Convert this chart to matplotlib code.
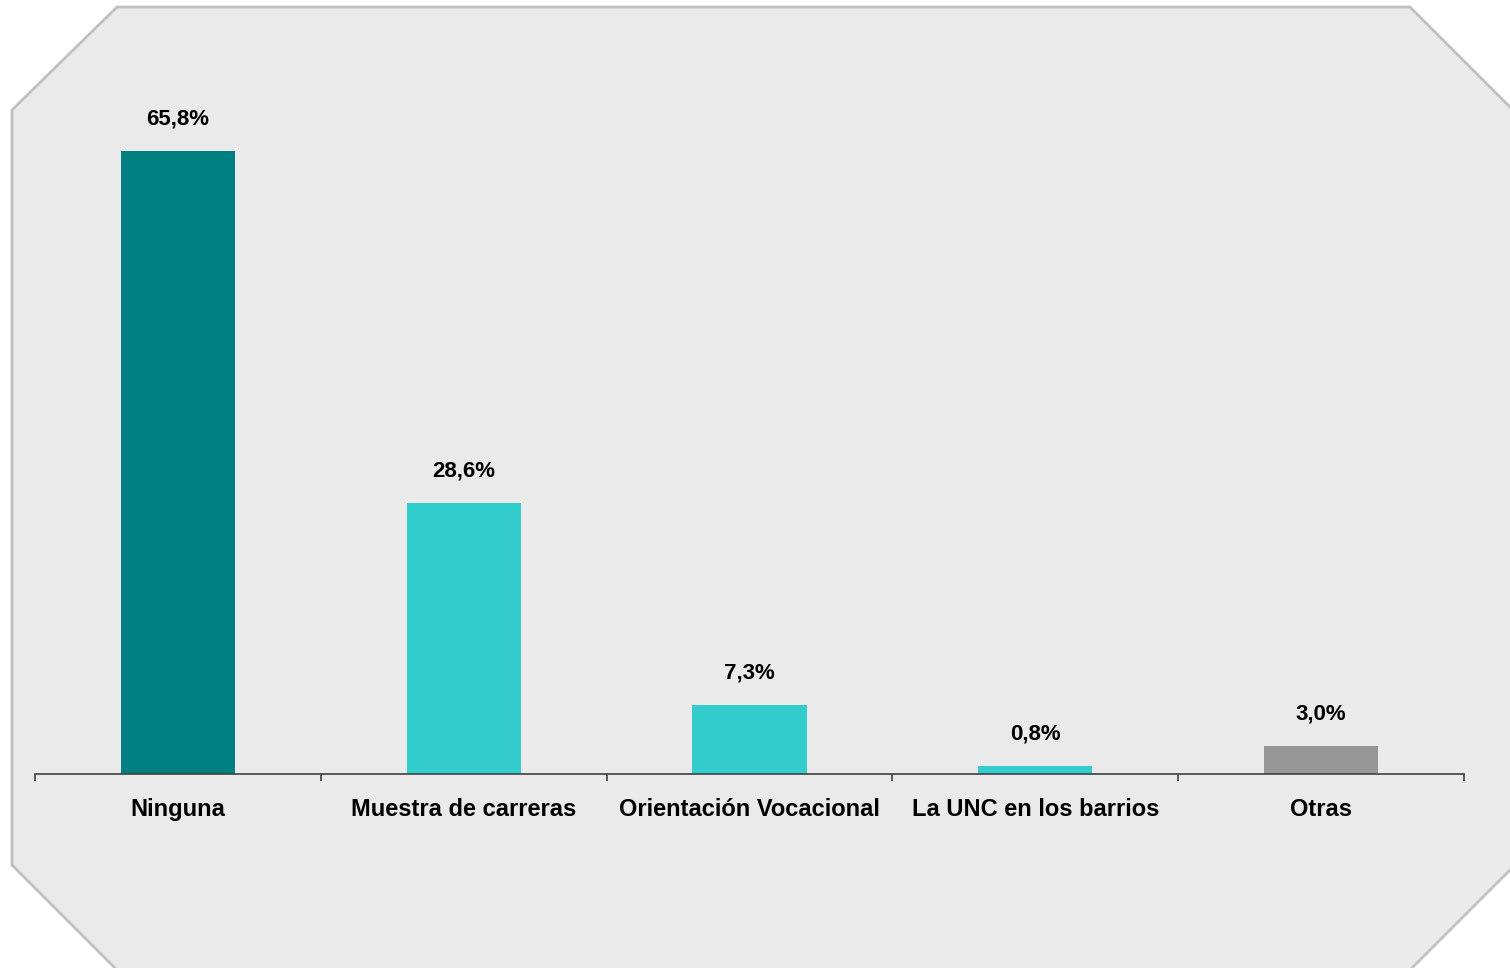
import matplotlib
matplotlib.use("Agg")
import matplotlib.pyplot as plt
from matplotlib.patches import Polygon

plt.rcParams['font.family'] = ['Liberation Sans', 'DejaVu Sans']

# --- Data ---
categories = ["Ninguna", "Muestra de carreras", "Orientación Vocacional",
              "La UNC en los barrios", "Otras"]
values = [65.8, 28.6, 7.3, 0.8, 3.0]
value_labels = ["65,8%", "28,6%", "7,3%", "0,8%", "3,0%"]
bar_colors = ["#008080", "#33CCCC", "#33CCCC", "#33CCCC", "#969696"]

W, H = 1510, 968
fig = plt.figure(figsize=(W / 100, H / 100), dpi=100)
fig.patch.set_facecolor("white")

# beveled background panel (pixel coords -> figure fraction)
corners = [(117, 7), (1410, 7), (1512, 109), (1512, 868), (1410, 970),
           (117, 970), (12, 865), (12, 110)]
panel = Polygon([(x / W, 1 - y / H) for x, y in corners], closed=True,
                transform=fig.transFigure, facecolor="#EAEAEA",
                edgecolor="#C0C0C0", linewidth=2, zorder=-10)
fig.patches.append(panel)

ax = fig.add_axes([35 / W, 1 - 774 / H, 1429 / W, 663 / H])
ax.set_facecolor("none")

x = range(len(categories))
bars = ax.bar(x, values, width=0.4, color=bar_colors, zorder=2)

for xi, v, lab in zip(x, values, value_labels):
    ax.annotate(lab, (xi, v), xytext=(0, 23), textcoords="offset points",
                ha="center", va="center", fontsize=16, fontweight="bold")

ax.set_xlim(-0.5, len(categories) - 0.5)
ax.set_ylim(0, 70)

for s in ["top", "right", "left"]:
    ax.spines[s].set_visible(False)
ax.spines["bottom"].set_color("#404040")
ax.spines["bottom"].set_linewidth(1.2)

ax.set_yticks([])
ax.set_xticks(list(x))
ax.set_xticklabels(categories, fontsize=17, fontweight="bold")
ax.tick_params(axis="x", which="major", length=0, pad=17)
ax.set_xticks([i - 0.5 for i in range(len(categories) + 1)], minor=True)
ax.tick_params(axis="x", which="minor", length=5, width=1.2,
               color="#404040", direction="out")

fig.savefig("out.png", dpi=100)
